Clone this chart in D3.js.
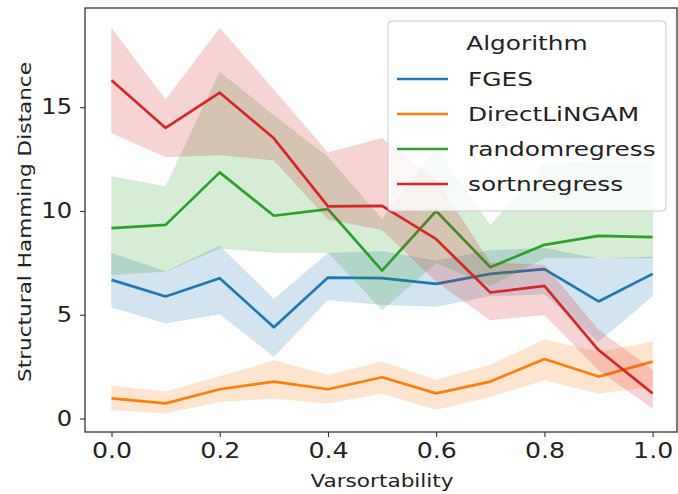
<!DOCTYPE html>
<html>
<head>
<meta charset="utf-8">
<script src="https://cdn.jsdelivr.net/npm/d3@7"></script>
<style>
  html, body { margin: 0; padding: 0; background: #fff; }
  svg { display: block; font-family: "DejaVu Sans", sans-serif; }
</style>
</head>
<body>
<div id="chart"></div>
<script>
// ── data
const varsortability = [0.0, 0.1, 0.2, 0.3, 0.4, 0.5, 0.6, 0.7, 0.8, 0.9, 1.0];
const algorithms = ['FGES', 'DirectLiNGAM', 'randomregress', 'sortnregress'];
const algoColors = ['#1f77b4', '#ff7f0e', '#2ca02c', '#d62728'];

const fgesMean  = [6.68, 5.88, 6.76, 4.40, 6.79, 6.76, 6.49, 6.97, 7.20, 5.64, 6.97];
const fgesLow   = [5.36, 4.59, 5.04, 2.98, 5.72, 5.48, 5.40, 5.90, 6.00, 3.70, 5.90];
const fgesHigh  = [7.97, 7.08, 8.32, 5.75, 7.97, 8.05, 7.60, 8.10, 8.20, 7.70, 7.80];

const lingamMean = [0.97, 0.73, 1.41, 1.78, 1.41, 1.99, 1.21, 1.78, 2.87, 2.02, 2.74];
const lingamLow  = [0.41, 0.25, 0.81, 0.97, 0.73, 1.20, 0.44, 1.05, 1.86, 1.20, 1.55];
const lingamHigh = [1.57, 1.29, 2.02, 2.79, 2.10, 2.74, 1.86, 2.58, 3.79, 3.20, 3.70];

const randomMean = [9.17, 9.33, 11.86, 9.77, 10.09, 7.13, 10.00, 7.29, 8.37, 8.80, 8.74];
const randomLow  = [6.92, 7.08, 8.20, 8.00, 8.00, 5.23, 7.50, 6.40, 7.73, 7.73, 7.73];
const randomHigh = [11.66, 11.18, 16.70, 14.60, 12.60, 9.60, 13.00, 9.30, 12.30, 12.40, 12.40];

const sortMean = [16.30, 14.00, 15.70, 13.50, 10.22, 10.25, 8.64, 6.07, 6.39, 3.30, 1.21];
const sortLow  = [13.76, 12.60, 12.70, 12.45, 9.60, 9.09, 6.60, 4.75, 5.00, 2.34, 0.49];
const sortHigh = [18.80, 15.36, 18.80, 15.84, 12.80, 13.50, 11.50, 7.50, 7.40, 4.27, 2.34];

const xTicks = [0.0, 0.2, 0.4, 0.6, 0.8, 1.0];
const yTicks = [0, 5, 10, 15];

const seriesMeans = [fgesMean, lingamMean, randomMean, sortMean];
const seriesLows  = [fgesLow, lingamLow, randomLow, sortLow];
const seriesHighs = [fgesHigh, lingamHigh, randomHigh, sortHigh];

// ── layout
const W = 678, H = 494;
const plot = { left: 85, right: 677, top: 8, bottom: 432 };

// the reference glyphs run a bit wider than DejaVu at the same height
function widen(sel, k) {
  sel.each(function () {
    const w = this.getComputedTextLength();
    d3.select(this)
      .attr('textLength', w * k)
      .attr('lengthAdjust', 'spacingAndGlyphs');
  });
}

const svg = d3.select('#chart')
  .append('svg')
    .attr('width', W)
    .attr('height', H);

const x = d3.scaleLinear().domain([-0.049, 1.045]).range([plot.left, plot.right]);
const y = d3.scaleLinear().domain([-0.65, 19.78]).range([plot.bottom, plot.top]);

// clip so bands stay in the axes box
svg.append('clipPath').attr('id', 'clip')
  .append('rect')
    .attr('x', plot.left).attr('y', plot.top)
    .attr('width', plot.right - plot.left)
    .attr('height', plot.bottom - plot.top);

const marks = svg.append('g').attr('clip-path', 'url(#clip)');

const area = d3.area()
  .x(d => x(d.x))
  .y0(d => y(d.lo))
  .y1(d => y(d.hi));

const line = d3.line()
  .x(d => x(d.x))
  .y(d => y(d.m));

algorithms.forEach((name, i) => {
  const rows = varsortability.map((v, j) => ({
    x: v, m: seriesMeans[i][j], lo: seriesLows[i][j], hi: seriesHighs[i][j]
  }));

  marks.append('path')
    .datum(rows)
    .attr('d', area)
    .attr('fill', algoColors[i])
    .attr('fill-opacity', 0.2)
    .attr('stroke', algoColors[i])
    .attr('stroke-opacity', 0.06)
    .attr('stroke-width', 1);

  marks.append('path')
    .datum(rows)
    .attr('d', line)
    .attr('fill', 'none')
    .attr('stroke', algoColors[i])
    .attr('stroke-width', 2.7)
    .attr('stroke-linejoin', 'round');
});

// ── axes
const axisColor = '#333';

const xAxis = svg.append('g')
  .attr('transform', `translate(0,${plot.bottom})`)
  .call(d3.axisBottom(x).tickValues(xTicks).tickFormat(d3.format('.1f')).tickSize(5).tickPadding(6))
  .call(g => g.select('.domain').remove());
xAxis.selectAll('.tick line').attr('stroke', axisColor).attr('stroke-width', 1.1);
xAxis.selectAll('.tick text')
  .attr('fill', '#222')
  .attr('font-size', '21px')
  .attr('font-family', '"DejaVu Sans", sans-serif')
  .call(widen, 1.2);

const yAxis = svg.append('g')
  .attr('transform', `translate(${plot.left},0)`)
  .call(d3.axisLeft(y).tickValues(yTicks).tickFormat(d3.format('d')).tickSize(5).tickPadding(8))
  .call(g => g.select('.domain').remove());
yAxis.selectAll('.tick line').attr('stroke', axisColor).attr('stroke-width', 1.1);
yAxis.selectAll('.tick text')
  .attr('fill', '#222')
  .attr('font-size', '21px')
  .attr('font-family', '"DejaVu Sans", sans-serif')
  .call(widen, 1.15);

// frame
svg.append('rect')
  .attr('x', plot.left).attr('y', plot.top)
  .attr('width', plot.right - plot.left)
  .attr('height', plot.bottom - plot.top)
  .attr('fill', 'none')
  .attr('stroke', axisColor)
  .attr('stroke-width', 1.3);

svg.append('text')
  .attr('x', 382)
  .attr('y', 487)
  .attr('text-anchor', 'middle')
  .attr('fill', '#222')
  .attr('font-size', '18px')
  .text('Varsortability')
  .call(widen, 1.2);

svg.append('text')
  .attr('transform', 'rotate(-90)')
  .attr('x', -222)
  .attr('y', 31)
  .attr('text-anchor', 'middle')
  .attr('fill', '#222')
  .attr('font-size', '18px')
  .text('Structural Hamming Distance')
  .call(widen, 1.2);

// ── legend
const legend = svg.append('g').attr('class', 'legend');

legend.append('rect')
  .attr('x', 388).attr('y', 21)
  .attr('width', 278).attr('height', 190)
  .attr('rx', 4)
  .attr('fill', '#fff')
  .attr('fill-opacity', 0.8)
  .attr('stroke', '#ccc')
  .attr('stroke-width', 1);

legend.append('text')
  .attr('x', 527).attr('y', 50)
  .attr('text-anchor', 'middle')
  .attr('fill', '#222')
  .attr('font-size', '20px')
  .text('Algorithm')
  .call(widen, 1.24);

algorithms.forEach((name, i) => {
  const row = legend.append('g')
    .attr('transform', `translate(0, ${86 + i * 35})`);

  row.append('line')
    .attr('x1', 397).attr('x2', 448)
    .attr('y1', -7).attr('y2', -7)
    .attr('stroke', algoColors[i])
    .attr('stroke-width', 2.7);

  row.append('text')
    .attr('x', 468)
    .attr('y', 0)
    .attr('fill', '#222')
    .attr('font-size', '20px')
    .text(name)
    .call(widen, 1.24);
});
</script>
</body>
</html>
